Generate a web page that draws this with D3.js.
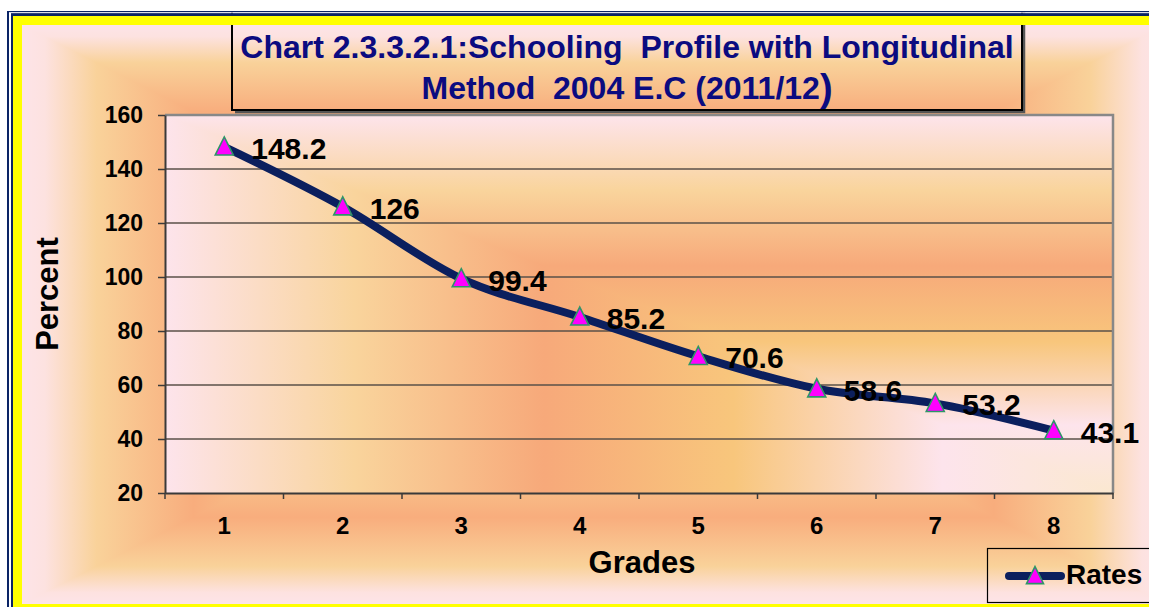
<!DOCTYPE html>
<html>
<head>
<meta charset="utf-8">
<script src="https://cdn.jsdelivr.net/npm/d3@7"></script>
<style>
  html, body { margin: 0; padding: 0; background: #ffffff; }
  svg { display: block; }
  text { font-family: "Liberation Sans", Arial, sans-serif; font-weight: bold; }
</style>
</head>
<body>
<svg id="chart" width="1149" height="607"></svg>
<script>
// ---- data ----
const grades = ["1", "2", "3", "4", "5", "6", "7", "8"];
const rates = [148.2, 126, 99.4, 85.2, 70.6, 58.6, 53.2, 43.1];
const rateLabels = ["148.2", "126", "99.4", "85.2", "70.6", "58.6", "53.2", "43.1"];
const yTicks = [20, 40, 60, 80, 100, 120, 140, 160];
const titleLine1 = "Chart 2.3.3.2.1:Schooling\u00A0\u00A0Profile with Longitudinal";
const titleLine2 = "Method\u00A0\u00A02004 E.C (2011/12";
const titleClose = ")";
const xTitle = "Grades";
const yTitle = "Percent";
const seriesName = "Rates";

// ---- layout ----
const W = 1149, H = 607;
const plot = { left: 165, top: 115, right: 1113, bottom: 493 };
const bg = { x0: 22, y0: 25, x1: 1165, y1: 604 };
const navy = "#0b1f5e";

const svg = d3.select("#chart");
const defs = svg.append("defs");

function linGrad(id, x1, y1, x2, y2, stops) {
  const g = defs.append("linearGradient").attr("id", id)
    .attr("gradientUnits", "userSpaceOnUse")
    .attr("x1", x1).attr("y1", y1).attr("x2", x2).attr("y2", y2);
  stops.forEach(s => g.append("stop").attr("offset", s[0]).attr("stop-color", s[1]));
}

// frame
svg.append("rect").attr("x", 7).attr("y", 11).attr("width", 1300).attr("height", 700).attr("fill", "#0a2466");
svg.append("rect").attr("x", 9).attr("y", 12.3).attr("width", 1300).attr("height", 700).attr("fill", "#ffffff");
svg.append("rect").attr("x", 11).attr("y", 13.3).attr("width", 1300).attr("height", 700).attr("fill", "#0a2466");
svg.append("rect").attr("x", 13).attr("y", 16).attr("width", 1300).attr("height", 700).attr("fill", "#ffff00");

// outer background: rectangular "from centre" gradient
const outerStops = [[0, "#fde4e8"], [0.04, "#fde2e0"], [0.13, "#f9d29a"], [0.3, "#f8ad7d"],
                    [0.5, "#f9cf92"], [0.75, "#fde2e2"], [1, "#fbe6cc"]];
const mirror = s => s.map(d => [d[0] / 2, d[1]]).concat(s.slice().reverse().map(d => [1 - d[0] / 2, d[1]]));
const cx = (bg.x0 + bg.x1) / 2, cy = (bg.y0 + bg.y1) / 2;
linGrad("outerH", bg.x0, 0, bg.x1, 0, mirror(outerStops));
linGrad("outerV", 0, bg.y0, 0, bg.y1, mirror(outerStops));
svg.append("rect").attr("x", bg.x0).attr("y", bg.y0)
  .attr("width", bg.x1 - bg.x0).attr("height", bg.y1 - bg.y0).attr("fill", "url(#outerH)");
svg.append("path").attr("fill", "url(#outerV)")
  .attr("d", `M${bg.x0},${bg.y0}L${bg.x1},${bg.y0}L${cx},${cy}Z M${bg.x0},${bg.y1}L${bg.x1},${bg.y1}L${cx},${cy}Z`);

// plot area: rectangular "from corner" (bottom-right) gradient
const plotStops = [[0, "#fbe8d0"], [0.18, "#fde4ec"], [0.4, "#f8c67c"], [0.6, "#f7a97a"],
                   [0.8, "#f9d49c"], [1, "#fde4ec"]];
linGrad("plotH", plot.right, 0, plot.left, 0, plotStops);
linGrad("plotV", 0, plot.bottom, 0, plot.top, plotStops);
svg.append("rect").attr("x", plot.left).attr("y", plot.top)
  .attr("width", plot.right - plot.left).attr("height", plot.bottom - plot.top).attr("fill", "url(#plotH)");
svg.append("path").attr("fill", "url(#plotV)")
  .attr("d", `M${plot.right},${plot.bottom}L${plot.right},${plot.top}L${plot.left},${plot.top}Z`);

// scales
const x = d3.scaleBand().domain(grades).range([plot.left, plot.right]).padding(0);
const y = d3.scaleLinear().domain([20, 160]).range([plot.bottom, plot.top]);

// gridlines
svg.append("g").selectAll("line").data(yTicks.filter(v => v > 20 && v < 160)).join("line")
  .attr("x1", plot.left).attr("x2", plot.right)
  .attr("y1", d => y(d)).attr("y2", d => y(d))
  .attr("stroke", "#5a5048").attr("stroke-width", 1.4);

// plot border (top & right gray)
svg.append("path")
  .attr("d", `M${plot.left},${plot.top}L${plot.right},${plot.top}L${plot.right},${plot.bottom}`)
  .attr("fill", "none").attr("stroke", "#888888").attr("stroke-width", 2.5);

// y axis
const yAxis = svg.append("g").attr("transform", `translate(${plot.left},0)`)
  .call(d3.axisLeft(y).tickValues(yTicks).tickSize(7).tickPadding(15).tickSizeOuter(0));
yAxis.select(".domain").attr("stroke", "#3a3a3a").attr("stroke-width", 2);
yAxis.selectAll(".tick line").attr("stroke", "#3a3a3a").attr("stroke-width", 1.5);
yAxis.selectAll(".tick text").attr("fill", "#000").style("font-size", "23px")
  .style("font-family", "'Liberation Sans', Arial, sans-serif").style("font-weight", "bold");

// x axis
const xAxis = svg.append("g").attr("transform", `translate(0,${plot.bottom})`)
  .call(d3.axisBottom(x).tickSize(0).tickPadding(24).tickSizeOuter(0));
xAxis.select(".domain").attr("stroke", "#3a3a3a").attr("stroke-width", 2);
xAxis.selectAll(".tick text").attr("fill", "#000").style("font-size", "24px")
  .style("font-family", "'Liberation Sans', Arial, sans-serif").style("font-weight", "bold");
const bounds = grades.map(g => x(g)).concat([x(grades[grades.length - 1]) + x.bandwidth()]);
svg.append("g").selectAll("line").data(bounds).join("line")
  .attr("x1", d => d).attr("x2", d => d)
  .attr("y1", plot.bottom).attr("y2", plot.bottom + 6)
  .attr("stroke", "#3a3a3a").attr("stroke-width", 1.5);

// axis titles
svg.append("text").attr("x", (plot.left + plot.right) / 2 + 3).attr("y", 573)
  .attr("text-anchor", "middle").style("font-size", "31px").attr("fill", "#000").text(xTitle);
svg.append("text").attr("transform", "translate(58,294) rotate(-90)")
  .attr("text-anchor", "middle").style("font-size", "31px").attr("fill", "#000").text(yTitle);

// series line
const pts = grades.map((g, i) => [x(g) + x.bandwidth() / 2, y(rates[i])]);
svg.append("path").datum(pts)
  .attr("d", d3.line().curve(d3.curveCardinal.tension(0)))
  .attr("fill", "none").attr("stroke", navy).attr("stroke-width", 8)
  .attr("stroke-linecap", "round").attr("stroke-linejoin", "round");

// markers
const tri = (cxp, cyp, s) => `M${cxp},${cyp - s * 0.55}L${cxp + s / 2},${cyp + s * 0.45}L${cxp - s / 2},${cyp + s * 0.45}Z`;
svg.append("g").selectAll("path").data(pts).join("path")
  .attr("d", d => tri(d[0], d[1], 18))
  .attr("fill", "#ff00ff").attr("stroke", "#2e9468").attr("stroke-width", 1.6);

// data labels
svg.append("g").selectAll("text").data(pts).join("text")
  .attr("x", d => d[0] + 27).attr("y", d => d[1] + 12)
  .style("font-size", "30px").attr("fill", "#000")
  .text((d, i) => rateLabels[i]);

// title box (top hidden under the frame): shadow on right/bottom, then black outline
const tb = { x0: 232, y0: 10, x1: 1022, y1: 110 };
svg.append("path")
  .attr("d", `M${tb.x0 + 3},${tb.y1 + 2}L${tb.x1 + 2},${tb.y1 + 2}L${tb.x1 + 2},${tb.y0}`)
  .attr("fill", "none").attr("stroke", "#555555").attr("stroke-width", 2.5);
svg.append("rect").attr("x", tb.x0).attr("y", tb.y0).attr("width", tb.x1 - tb.x0).attr("height", tb.y1 - tb.y0)
  .attr("fill", "none").attr("stroke", "#000").attr("stroke-width", 2);
// re-draw the frame over the top of the title box
svg.append("rect").attr("x", 7).attr("y", 0).attr("width", 1300).attr("height", 11).attr("fill", "#ffffff");
svg.append("rect").attr("x", 7).attr("y", 11).attr("width", 1300).attr("height", 1.3).attr("fill", "#0a2466");
svg.append("rect").attr("x", 9).attr("y", 12.3).attr("width", 1300).attr("height", 1).attr("fill", "#ffffff");
svg.append("rect").attr("x", 11).attr("y", 13.3).attr("width", 1300).attr("height", 2.7).attr("fill", "#0a2466");
svg.append("rect").attr("x", 13).attr("y", 16).attr("width", 1300).attr("height", bg.y0 - 16).attr("fill", "#ffff00");

const title = svg.append("text").attr("text-anchor", "middle").attr("fill", "#0b0b80").style("font-size", "32px");
title.append("tspan").attr("x", 627).attr("y", 58).text(titleLine1);
const t2 = svg.append("text").attr("text-anchor", "middle").attr("fill", "#0b0b80").style("font-size", "32px")
  .attr("x", 627).attr("y", 99);
t2.append("tspan").text(titleLine2);
t2.append("tspan").style("font-size", "38px").attr("dy", 2).text(titleClose);

// legend
svg.append("rect").attr("x", 987.5).attr("y", 548.5).attr("width", 200).attr("height", 54)
  .attr("fill", "none").attr("stroke", "#000").attr("stroke-width", 1.2);
svg.append("line").attr("x1", 1009).attr("x2", 1061).attr("y1", 576).attr("y2", 576)
  .attr("stroke", navy).attr("stroke-width", 8).attr("stroke-linecap", "round");
svg.append("path").attr("d", tri(1035, 576, 17))
  .attr("fill", "#ff00ff").attr("stroke", "#2e9468").attr("stroke-width", 1.6);
svg.append("text").attr("x", 1066).attr("y", 584).style("font-size", "28px").attr("fill", "#000").text(seriesName);
</script>
</body>
</html>
